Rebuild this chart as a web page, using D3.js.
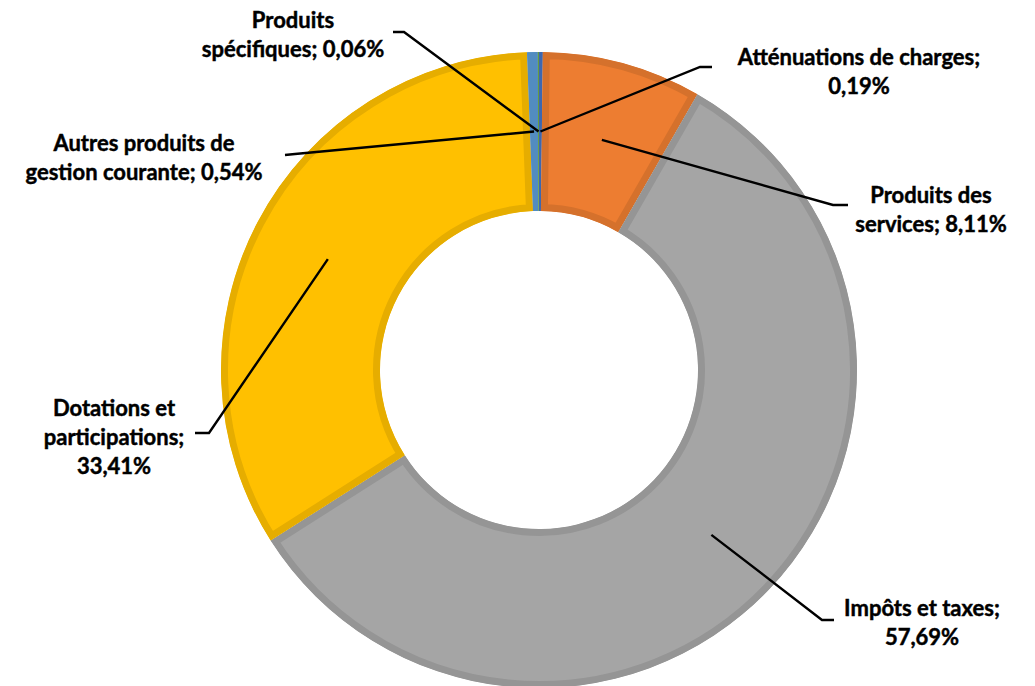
<!DOCTYPE html>
<html>
<head>
<meta charset="utf-8">
<script src="https://cdn.jsdelivr.net/npm/d3@7"></script>
<style>
  html, body { margin: 0; padding: 0; background: #ffffff; }
  svg { display: block; }
  text { font-family: Lato, "Open Sans", "DejaVu Sans", sans-serif; font-weight: 700; fill: #000; stroke: #000; stroke-width: 0.45px; }
</style>
</head>
<body>
<svg id="chart" width="1035" height="686"></svg>
<script>
// ---- data ----
const categories = [
  "Atténuations de charges",
  "Produits des services",
  "Impôts et taxes",
  "Dotations et participations",
  "Autres produits de gestion courante",
  "Produits spécifiques"
];
const values = [0.19, 8.11, 57.69, 33.41, 0.54, 0.06];
const valueLabels = ["0,19%", "8,11%", "57,69%", "33,41%", "0,54%", "0,06%"];
const labelLines = [
  ["Atténuations de charges;", "0,19%"],
  ["Produits des", "services; 8,11%"],
  ["Impôts et taxes;", "57,69%"],
  ["Dotations et", "participations;", "33,41%"],
  ["Autres produits de", "gestion courante; 0,54%"],
  ["Produits", "spécifiques; 0,06%"]
];
const colors = ["#4472C4", "#ED7D31", "#A5A5A5", "#FFC000", "#5B9BD5", "#70AD47"];

// ---- layout ----
const W = 1035, H = 686;
const cx = 539, cy = 370, R = 318, r0 = 159;
const bandWidth = 7;
const lineGap = 29;
// label block centre (x) and first baseline (y); leader elbow and end
const labelLayout = [
  { x: 859, y: 65,  elbow: [700, 67], end: [712, 67] },
  { x: 931, y: 203, elbow: [833, 205], end: [848, 205] },
  { x: 922, y: 616, elbow: [822, 620], end: [834, 620] },
  { x: 114, y: 416, elbow: [209, 433], end: [195, 433] },
  { x: 144, y: 151, elbow: [295, 154], end: [285, 155] },
  { x: 293, y: 28,  elbow: [404, 32],  end: [393, 32] }
];

const svg = d3.select("#chart");
const g = svg.append("g").attr("transform", `translate(${cx},${cy})`);

const data = categories.map((c, i) => ({ name: c, value: values[i], i }));
const pie = d3.pie().sort(null).value(d => d.value);
const arcs = pie(data);
const arc = d3.arc().innerRadius(r0).outerRadius(R);
const midArc = d3.arc().innerRadius(r0).outerRadius(R);

const defs = svg.append("defs");
arcs.forEach((a, i) => {
  defs.append("clipPath").attr("id", "clip" + i)
    .append("path").attr("d", arc(a));
});

const darker = c => { const k = d3.rgb(c); return d3.rgb(k.r * 0.9, k.g * 0.9, k.b * 0.9).toString(); };

g.selectAll("path.slice").data(arcs).enter().append("path")
  .attr("class", "slice")
  .attr("d", arc)
  .attr("fill", d => colors[d.data.i])
  .attr("stroke", d => darker(colors[d.data.i]))
  .attr("stroke-width", bandWidth * 2)
  .attr("stroke-linejoin", "miter")
  .attr("clip-path", (d, i) => `url(#clip${i})`);

// leader lines
const leaders = svg.append("g");
arcs.forEach((a, i) => {
  const c = midArc.centroid(a);
  const L = labelLayout[i];
  leaders.append("polyline")
    .attr("points", [[c[0] + cx, c[1] + cy], L.elbow, L.end].map(p => p.join(",")).join(" "))
    .attr("fill", "none")
    .attr("stroke", "#000")
    .attr("stroke-width", 2.4);
});

// labels
const labels = svg.append("g");
labelLines.forEach((lines, i) => {
  const L = labelLayout[i];
  const t = labels.append("text")
    .attr("text-anchor", "middle")
    .attr("font-size", 22);
  lines.forEach((ln, j) => {
    t.append("tspan").attr("x", L.x).attr("y", L.y + j * lineGap).text(ln);
  });
});
</script>
</body>
</html>
